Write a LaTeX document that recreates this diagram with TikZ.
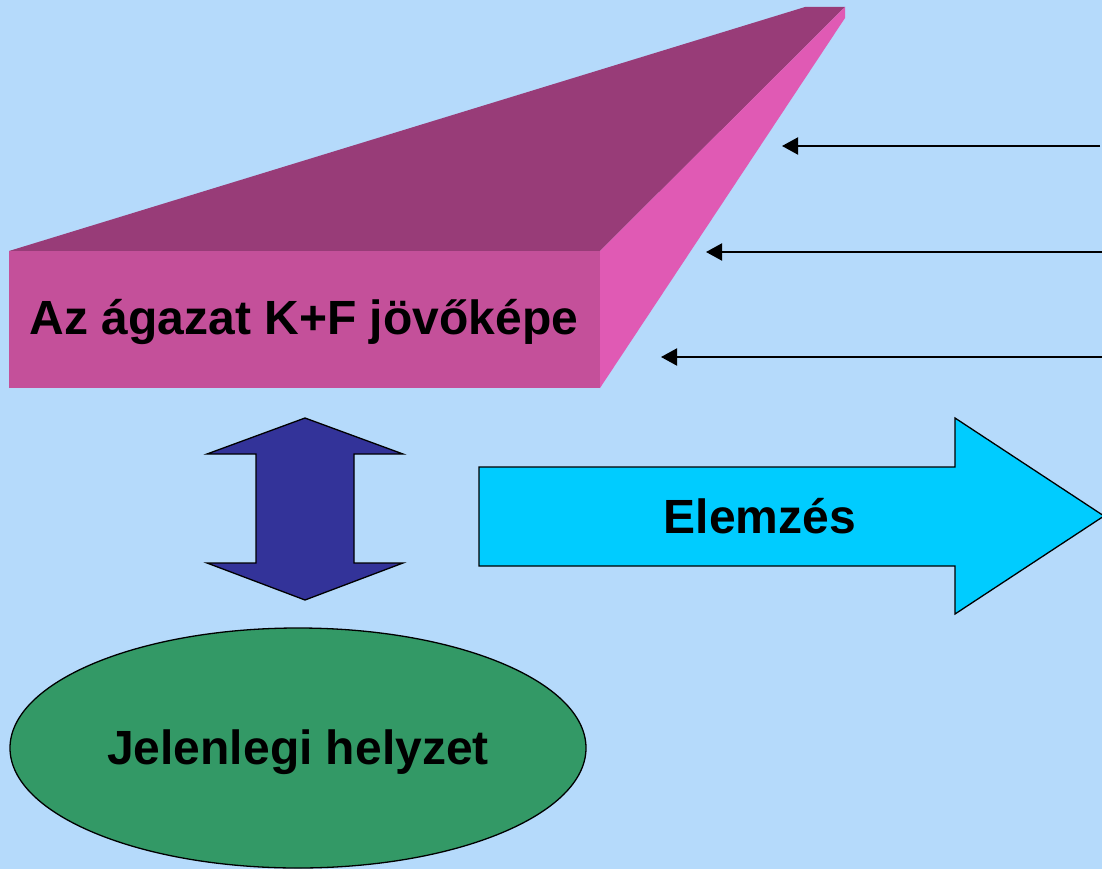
\documentclass[tikz,border=0pt]{standalone}
\usepackage{fontspec}
\setmainfont{Liberation Sans}
\usetikzlibrary{arrows.meta,shapes.geometric}
\definecolor{bgblue}{HTML}{B5DAFB}
\definecolor{frontpink}{HTML}{C4509A}
\definecolor{toppurple}{HTML}{983C78}
\definecolor{sidepink}{HTML}{E05AB4}
\definecolor{arrowblue}{HTML}{333399}
\definecolor{cyanarrow}{HTML}{00CCFF}
\definecolor{ellgreen}{HTML}{339966}
\tikzset{
  lbl/.style={font=\bfseries\fontsize{48}{57}\selectfont, text=black},
  inarrow/.style={line width=2pt, -{Triangle[length=16pt,width=17pt]}},
  outl/.style={draw=black, line width=1.3pt, line join=miter},
}
\begin{document}
\begin{tikzpicture}[x=1pt,y=-1pt]
\fill[bgblue] (0,0) rectangle (1102,869);
\useasboundingbox (0,0) rectangle (1102,869);
% 3D box
\fill[toppurple] (9,251) -- (805,7) -- (845,7) -- (600,251) -- cycle;
\fill[sidepink] (600,251) -- (845,7) -- (845,18) -- (600,388) -- cycle;
\node[fill=frontpink, minimum width=591pt, minimum height=137pt, inner sep=0pt, anchor=north west] (box) at (9,251) {};
\node[lbl] (boxtext) at (304,322) {Az ágazat K+F jövőképe};
% incoming arrows
\coordinate (s1) at (1100,146);
\coordinate (e1) at (782,146);
\coordinate (s2) at (1102,252);
\coordinate (e2) at (706,252);
\coordinate (s3) at (1102,357);
\coordinate (e3) at (661,357);
\draw[inarrow] (s1) -- (e1);
\draw[inarrow] (s2) -- (e2);
\draw[inarrow] (s3) -- (e3);
% double arrow
\draw[outl, fill=arrowblue] (305,418) -- (403,454) -- (354,454) -- (354,563) -- (403,563) -- (305,600) -- (207,563) -- (256,563) -- (256,454) -- (207,454) -- cycle;
% big arrow
\draw[outl, fill=cyanarrow] (479,467) -- (955,467) -- (955,418) -- (1104,516) -- (955,614) -- (955,566) -- (479,566) -- cycle;
\node[lbl] (elem) at (760,516) {Elemzés};
% ellipse
\node[ellipse, draw=black, line width=1.3pt, fill=ellgreen, minimum width=576pt, minimum height=240pt, inner sep=0pt] (ell) at (298,748) {};
\node[lbl] (jel) at (298,752) {Jelenlegi helyzet};
\end{tikzpicture}
\end{document}
